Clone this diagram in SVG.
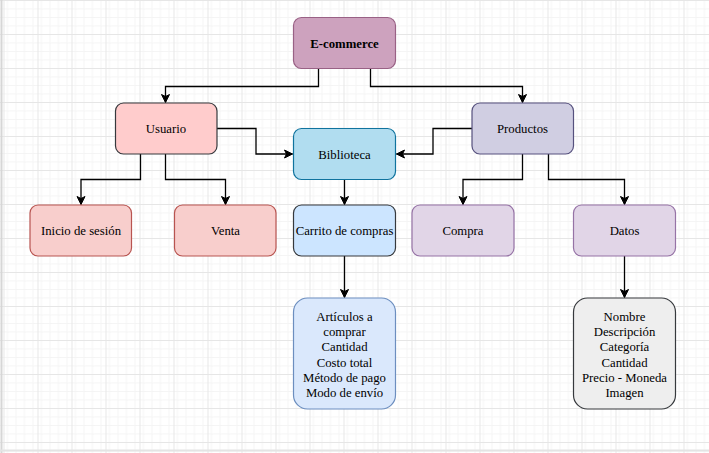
<svg xmlns="http://www.w3.org/2000/svg" width="709" height="453" viewBox="0 0 709 453">
  <defs>
    <pattern id="minor" x="3.5" y="0" width="8.5" height="8.5" patternUnits="userSpaceOnUse">
      <path d="M0 0.5 H8.5 M0.5 0 V8.5" fill="none" stroke="#f4f4f4" stroke-width="1"/>
    </pattern>
    <pattern id="major" x="3.5" y="0" width="34" height="34" patternUnits="userSpaceOnUse">
      <rect width="34" height="34" fill="url(#minor)"/>
      <path d="M0 0.5 H34 M0.5 0 V34" fill="none" stroke="#e6e6e6" stroke-width="1"/>
    </pattern>
    <marker id="arrow" markerUnits="userSpaceOnUse" markerWidth="12" markerHeight="12" refX="10" refY="6" orient="auto">
      <path d="M2 2 L10 6 L2 10 L4 6 Z" fill="#000" stroke="#000" stroke-width="1"/>
    </marker>
  </defs>
  <style>
    .box { stroke-width: 1.2; }
    .t { font-family: 'Liberation Serif', 'Times New Roman', 'DejaVu Serif', serif; font-size: 12.75px; fill: #000; text-anchor: middle; }
    .b { font-weight: bold; }
    .edge { fill: none; stroke: #000; stroke-width: 1.3; marker-end: url(#arrow); }
  </style>
  <rect x="0" y="0" width="709" height="453" fill="#ffffff"/>
  <rect x="0" y="0" width="709" height="453" fill="url(#major)"/>
  <line x1="1.5" y1="0" x2="1.5" y2="453" stroke="#d6d6d6" stroke-width="2"/>
  <line x1="0" y1="450.5" x2="709" y2="450.5" stroke="#e4e4e4" stroke-width="2"/>

  <g id="connectors">
    <path class="edge" d="M318.5 69 V86.5 H165.5 V102.5"/>
    <path class="edge" d="M370.5 69 V86.5 H522.5 V102.5"/>
    <path class="edge" d="M217 128.5 H256 V154 H292.5"/>
    <path class="edge" d="M472 128.5 H433 V154 H396.5"/>
    <path class="edge" d="M140.5 154 V179.5 H81 V204.5"/>
    <path class="edge" d="M165.5 154 V179.5 H225.5 V204.5"/>
    <path class="edge" d="M344.5 179.5 V204.5"/>
    <path class="edge" d="M522.5 154 V179.5 H463 V204.5"/>
    <path class="edge" d="M548.5 154 V179.5 H624.5 V204.5"/>
    <path class="edge" d="M344.5 256 V297.5"/>
    <path class="edge" d="M624.5 256 V297.5"/>
  </g>

  <g id="ecommerce">
    <rect class="box" x="293.5" y="17.5" width="102" height="51" rx="8" fill="#cda2be" stroke="#996185"/>
    <text class="t b" x="344.5" y="47.5">E-commerce</text>
  </g>
  <g id="usuario">
    <rect class="box" x="115.5" y="103" width="101.5" height="51" rx="8" fill="#ffcccc" stroke="#36393d"/>
    <text class="t" x="166" y="133">Usuario</text>
  </g>
  <g id="productos">
    <rect class="box" x="472" y="103" width="101.5" height="51" rx="8" fill="#d0cee2" stroke="#56517e"/>
    <text class="t" x="522.5" y="133">Productos</text>
  </g>
  <g id="biblioteca">
    <rect class="box" x="293.5" y="128.5" width="102" height="51" rx="8" fill="#b1ddf0" stroke="#10739e"/>
    <text class="t" x="344.5" y="158.5">Biblioteca</text>
  </g>
  <g id="inicio">
    <rect class="box" x="30" y="205" width="101.5" height="51" rx="8" fill="#f8cecc" stroke="#b85450"/>
    <text class="t" x="81" y="235">Inicio de sesión</text>
  </g>
  <g id="venta">
    <rect class="box" x="174.5" y="205" width="101.5" height="51" rx="8" fill="#f8cecc" stroke="#b85450"/>
    <text class="t" x="225.5" y="235">Venta</text>
  </g>
  <g id="carrito">
    <rect class="box" x="293.5" y="205" width="102" height="51" rx="8" fill="#cce5ff" stroke="#36393d"/>
    <text class="t" x="344.5" y="235">Carrito de compras</text>
  </g>
  <g id="compra">
    <rect class="box" x="412" y="205" width="102" height="51" rx="8" fill="#e1d5e7" stroke="#9673a6"/>
    <text class="t" x="463" y="235">Compra</text>
  </g>
  <g id="datos">
    <rect class="box" x="573.5" y="205" width="102" height="51" rx="8" fill="#e1d5e7" stroke="#9673a6"/>
    <text class="t" x="624.5" y="235">Datos</text>
  </g>
  <g id="articulos">
    <rect class="box" x="293.5" y="298" width="102" height="111" rx="14" fill="#dae8fc" stroke="#6c8ebf"/>
    <text class="t" x="344.5" y="321.2">Artículos a</text>
    <text class="t" x="344.5" y="336.3">comprar</text>
    <text class="t" x="344.5" y="351.4">Cantidad</text>
    <text class="t" x="344.5" y="366.5">Costo total</text>
    <text class="t" x="344.5" y="381.6">Método de pago</text>
    <text class="t" x="344.5" y="396.7">Modo de envío</text>
  </g>
  <g id="nombre">
    <rect class="box" x="573.5" y="298" width="102" height="111" rx="14" fill="#eeeeee" stroke="#36393d"/>
    <text class="t" x="624.5" y="321.2">Nombre</text>
    <text class="t" x="624.5" y="336.3">Descripción</text>
    <text class="t" x="624.5" y="351.4">Categoría</text>
    <text class="t" x="624.5" y="366.5">Cantidad</text>
    <text class="t" x="624.5" y="381.6">Precio - Moneda</text>
    <text class="t" x="624.5" y="396.7">Imagen</text>
  </g>
</svg>
